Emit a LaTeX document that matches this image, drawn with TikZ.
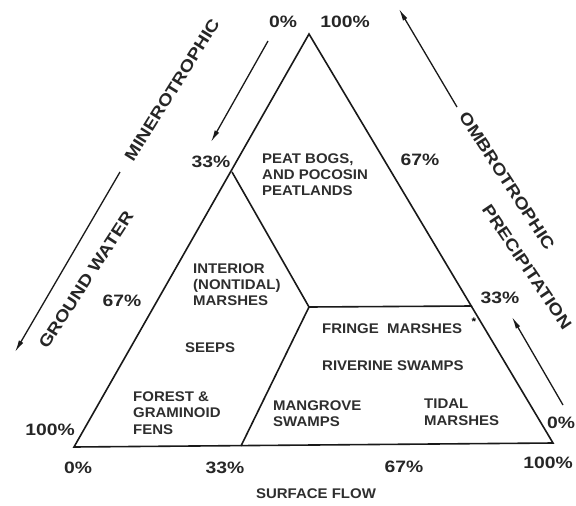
\documentclass[tikz,border=0pt]{standalone}
\usepackage{fontspec}
\setmainfont{Liberation Sans}
\newfontfamily\regfont[FakeStretch=1.07]{Liberation Sans Bold}
\newfontfamily\pctfont[FakeStretch=1.17]{Liberation Sans Bold}
\usetikzlibrary{arrows.meta}
\begin{document}
\begin{tikzpicture}[x=1pt,y=-1pt,
  tri/.style={line width=1.6pt,line join=miter,black!90},
  inner/.style={line width=1.6pt,black!90},
  arr/.style={line width=1.3pt,black!90,-{Latex[length=12pt,width=5pt]}},
  pct/.style={font=\pctfont\fontsize{16.5}{18}\selectfont,inner sep=0pt,text=black!85},
  rot/.style={font=\pctfont\fontsize{16.5}{18}\selectfont,inner sep=0pt,text=black!85},
  reg/.style={font=\regfont\fontsize{14}{16}\selectfont,inner sep=0pt,anchor=base west,text=black!82}]
\useasboundingbox (0,0) rectangle (576,506);
% triangle corners and inner points
\coordinate (A) at (309,34);
\coordinate (BL) at (74,447);
\coordinate (BR) at (553,443);
\coordinate (P1) at (232,172);
\coordinate (C) at (309,307);
\coordinate (P2) at (472,306);
\coordinate (P3) at (241,446);
\draw[tri] (A) -- (BL) -- (BR) -- cycle;
\draw[inner] (P1) -- (C) -- (P2);
\draw[inner] (C) -- (P3);
% arrows
\coordinate (a1s) at (268,41);  \coordinate (a1e) at (211,142);
\coordinate (a2s) at (120,172); \coordinate (a2e) at (15,352);
\coordinate (a3s) at (457,107); \coordinate (a3e) at (399,9);
\coordinate (a4s) at (563,405); \coordinate (a4e) at (512,317);
\draw[arr] (a1s) -- (a1e);
\draw[arr] (a2s) -- (a2e);
\draw[arr] (a3s) -- (a3e);
\draw[arr] (a4s) -- (a4e);
% rotated labels
\node[rot,rotate=58] (mine) at (172,90) {MINEROTROPHIC};
\node[rot,rotate=57] (gw) at (86,280) {GROUND WATER};
\node[rot,rotate=-57] (ombro) at (507,181) {OMBROTROPHIC};
\node[rot,rotate=-56] (prec) at (527,267) {PRECIPITATION};
% percentages
\node[pct] (t0) at (283,22) {0\%};
\node[pct] (t100) at (345,22) {100\%};
\node[pct] (l33) at (211,162) {33\%};
\node[pct] (l67) at (122,301) {67\%};
\node[pct] (l100) at (50,430) {100\%};
\node[pct] (b0) at (78,468) {0\%};
\node[pct] (b33) at (225,468) {33\%};
\node[pct] (b67) at (404,467) {67\%};
\node[pct] (b100) at (548,463) {100\%};
\node[pct] (r0) at (561,423) {0\%};
\node[pct] (r33) at (500,298) {33\%};
\node[pct] (r67) at (420,160) {67\%};
% region labels
\node[reg] (pb1) at (262,163) {PEAT BOGS,};
\node[reg] (pb2) at (262,179) {AND POCOSIN};
\node[reg] (pb3) at (262,195) {PEATLANDS};
\node[reg] (im1) at (193,273) {INTERIOR};
\node[reg] (im2) at (193,289) {(NONTIDAL)};
\node[reg] (im3) at (193,305) {MARSHES};
\node[reg] (seeps) at (185,352) {SEEPS};
\node[reg] (fg1) at (133,401) {FOREST \&};
\node[reg] (fg2) at (133,417) {GRAMINOID};
\node[reg] (fg3) at (133,434) {FENS};
\node[reg] (fm) at (322,333) {FRINGE\ \ MARSHES};
\node[font=\regfont\fontsize{11}{12}\selectfont,inner sep=0pt] (ast) at (474,322) {*};
\node[reg] (rs) at (322,370) {RIVERINE SWAMPS};
\node[reg] (ms1) at (273,410) {MANGROVE};
\node[reg] (ms2) at (273,426) {SWAMPS};
\node[reg] (tm1) at (424,408) {TIDAL};
\node[reg] (tm2) at (424,425) {MARSHES};
\node[font=\regfont\fontsize{14}{16}\selectfont,inner sep=0pt,text=black!82] (sf) at (316,494) {SURFACE FLOW};
\end{tikzpicture}
\end{document}
